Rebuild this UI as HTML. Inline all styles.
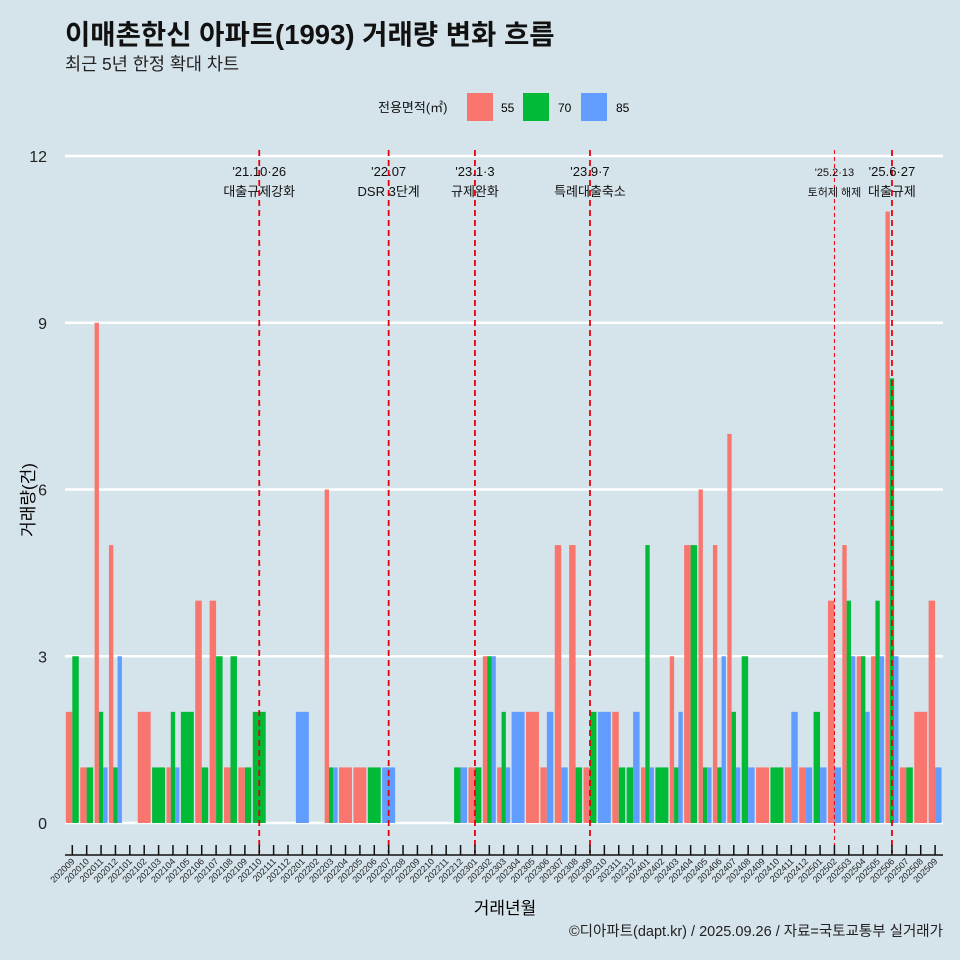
<!DOCTYPE html>
<html><head><meta charset="utf-8"><style>
body{margin:0;background:#d5e3ea;}
svg{display:block;font-family:"Liberation Sans","Noto Sans CJK KR",sans-serif;}
</style></head><body>
<svg id="c" width="960" height="960">
<rect width="960" height="960" fill="#d5e3ea"/>
<text x="65" y="44" font-size="27.5" font-weight="bold" fill="#111">이매촌한신 아파트(1993) 거래량 변화 흐름</text>
<text x="65" y="70" font-size="17.5" fill="#222">최근 5년 한정 확대 차트</text>
<g>
<text x="378" y="112" font-size="13" fill="#111">전용면적(㎡)</text>
<rect x="467" y="93" width="26" height="28" fill="#f8766d"/>
<text x="501" y="112" font-size="12">55</text>
<rect x="523" y="93" width="26" height="28" fill="#00ba38"/>
<text x="558" y="112" font-size="12">70</text>
<rect x="581" y="93" width="26" height="28" fill="#619cff"/>
<text x="616" y="112" font-size="12">85</text>
</g>
<g id="grid"></g><g id="bars"></g><g id="ann"></g><g id="axes"></g>
<text transform="translate(34,500) rotate(-90)" text-anchor="middle" font-size="17">거래량(건)</text>
<text x="505" y="914" text-anchor="middle" font-size="17">거래년월</text>
<text x="943" y="936" text-anchor="end" font-size="14.5" fill="#222">©디아파트(dapt.kr) / 2025.09.26 / 자료=국토교통부 실거래가</text>
</svg>
<script>
const months=[];for(let y=2020,m=9;!(y===2025&&m===10);){months.push(y+String(m).padStart(2,'0'));m++;if(m>12){m=1;y++;}}
const groups=['55','70','85'];
const colors=['#f8766d','#00ba38','#619cff'];
const s55={202009:2,202010:1,202011:9,202012:5,202102:2,202104:1,202106:4,202107:4,202108:1,202109:1,202203:6,202204:1,202205:1,202301:1,202302:3,202303:1,202305:2,202306:1,202307:5,202308:5,202309:1,202311:2,202401:1,202403:3,202404:5,202405:6,202406:5,202407:7,202409:1,202411:1,202412:1,202502:4,202503:5,202504:3,202505:3,202506:11,202507:1,202508:2,202509:4};
const s70={202009:3,202010:1,202011:2,202012:1,202103:1,202104:2,202105:2,202106:1,202107:3,202108:3,202109:1,202110:2,202203:1,202206:1,202212:1,202301:1,202302:3,202303:2,202308:1,202309:2,202311:1,202312:1,202401:5,202402:1,202403:1,202404:5,202405:1,202406:1,202407:2,202408:3,202410:1,202501:2,202503:4,202504:3,202505:4,202506:8,202507:1};
const s85={202011:1,202012:3,202104:1,202201:2,202203:1,202207:1,202212:1,202302:3,202303:1,202304:2,202306:2,202307:1,202310:2,202312:2,202401:1,202403:2,202405:1,202406:3,202407:1,202408:1,202411:2,202412:1,202501:1,202502:1,202503:3,202504:2,202505:3,202506:3,202509:1};
const series=[s55,s70,s85];
const yTicks=[0,3,6,9,12];
const events=['202110','202207','202301','202309','202502','202506'];
const eventDates=["'21.10·26","'22.07","'23.1·3","'23.9·7","'25.2·13","'25.6·27"];
const eventLabels=['대출규제강화','DSR 3단계','규제완화','특례대출축소','토허제 해제','대출규제'];
const NS='http://www.w3.org/2000/svg';
function el(t,a,p){const e=document.createElementNS(NS,t);for(const k in a)e.setAttribute(k,a[k]);document.getElementById(p).appendChild(e);return e;}
const x0=72.3,step=14.38;
const X=i=>x0+i*step;
const Y=v=>823-v*(667/12);
yTicks.forEach(v=>{
 const l=el('line',{x1:65,x2:943,y1:Y(v),y2:Y(v),stroke:'#fff','stroke-width':2.5},'grid');
 
 
 const t=el('text',{x:47,y:Y(v)+6,'text-anchor':'end','font-size':16,fill:'#222'},'axes');t.textContent=v;
 
 
});
const bw=step*0.9;
months.forEach((m,i)=>{
 const present=[];series.forEach((s,g)=>{if(s[m])present.push(g);});
 const w=bw/(present.length||1);
 present.forEach((g,k)=>{
  const v=series[g][m];
  const r=el('rect',{x:X(i)-bw/2+k*w,y:Y(v),width:w,height:Y(0)-Y(v),fill:colors[g]},'bars');
  
  
 });
 const tk=el('line',{x1:X(i),x2:X(i),y1:845,y2:855,stroke:'#111','stroke-width':1.5},'axes');
 
 
 const t=el('text',{x:X(i)+3,y:862,'text-anchor':'end','font-size':9,fill:'#222',transform:`rotate(-45 ${X(i)+3} 862)`},'axes');t.textContent=m;
 
 
});
const ax=el('line',{x1:65,x2:943,y1:855,y2:855,stroke:'#111','stroke-width':1.5},'axes');


events.forEach((m,j)=>{
 const i=months.indexOf(m);const thin=(m==='202502');
 const l=el('line',{x1:X(i),x2:X(i),y1:150,y2:853,stroke:'#e8000b','stroke-width':thin?1:1.8,'stroke-dasharray':thin?'4,3':'6,4'},'ann');
 
 
 const fs=thin?11:13;
 const t1=el('text',{x:X(i),y:176,'text-anchor':'middle','font-size':thin?11:13,fill:'#111'},'ann');t1.textContent=eventDates[j];
 
 
 const t2=el('text',{x:X(i),y:196,'text-anchor':'middle','font-size':fs,fill:'#111'},'ann');t2.textContent=eventLabels[j];
 
 
});
</script>
</body></html>
